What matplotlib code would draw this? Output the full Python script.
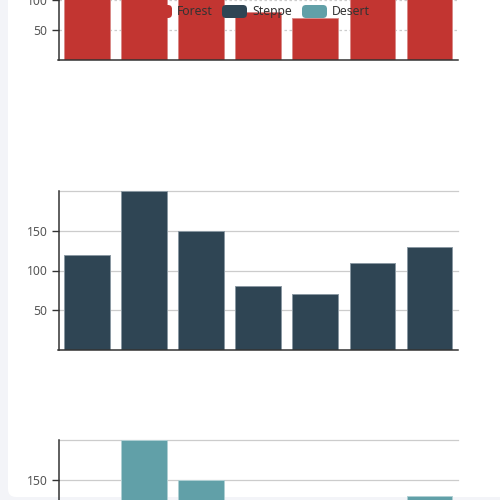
import numpy as np
import matplotlib
matplotlib.use("Agg")
import matplotlib.pyplot as plt
from matplotlib.patches import FancyBboxPatch

plt.rcParams['font.family'] = ['Noto Sans', 'DejaVu Sans']

# data
days = ['Mon', 'Tue', 'Wed', 'Thu', 'Fri', 'Sat', 'Sun']
series_names = ['Forest', 'Steppe', 'Desert']
forest = [120, 200, 150, 80, 70, 110, 130]
steppe = [120, 200, 150, 80, 70, 110, 130]
desert = [120, 200, 150, 80, 70, 110, 130]
colors = ['#c23531', '#2f4554', '#61a0a8']
edge_colors = ['#d98a88', '#8a98a2', '#b0d0d4']
ticks = [50, 100, 150]

W, H = 500, 500
fig = plt.figure(figsize=(5, 5), dpi=100, facecolor='#f3f4f8')

# background axes in pixel coords, holds the white card
bg = fig.add_axes([0, 0, 1, 1], zorder=-5)
bg.set_xlim(0, W)
bg.set_ylim(H, 0)
bg.axis('off')
bg.add_patch(FancyBboxPatch((8, -30), 520, 527, boxstyle='round,pad=0,rounding_size=8',
                            facecolor='white', edgecolor='none'))


def px_axes(left, top, right, bottom):
    return fig.add_axes([left / W, 1 - bottom / H, (right - left) / W, (bottom - top) / H])


def draw(ax, vals, color, edge, dashed):
    x = np.arange(len(days))
    ax.set_facecolor('none')
    ax.bar(x, vals, width=0.8, color=color, edgecolor=edge, linewidth=0.7, zorder=3)
    ax.set_xlim(-0.5, len(days) - 0.5)
    ax.set_ylim(0, 200)
    ax.set_yticks(ticks)
    ax.set_yticklabels([str(t) for t in ticks])
    ax.set_xticks([])
    ls = (0, (2, 2)) if dashed else '-'
    for t in ticks + [200]:
        ax.axhline(t, color='#cccccc', lw=0.9, ls=ls, zorder=1, clip_on=False)
    for s in ['top', 'right']:
        ax.spines[s].set_visible(False)
    for s in ['left', 'bottom']:
        ax.spines[s].set_color('#333333')
        ax.spines[s].set_linewidth(1.1)
        ax.spines[s].set_zorder(4)
    ax.tick_params(axis='y', length=5, width=1, color='#333333', labelcolor='#555555',
                   labelsize=8.8, pad=3)


ax1 = px_axes(58.5, -60, 458, 60)
draw(ax1, forest, colors[0], edge_colors[0], True)
ax2 = px_axes(58.5, 191, 458, 350)
draw(ax2, steppe, colors[1], edge_colors[1], False)
ax3 = px_axes(58.5, 440, 458, 599)
draw(ax3, desert, colors[2], edge_colors[2], False)

# legend overlay
top = fig.add_axes([0, 0, 1, 1], zorder=10)
top.set_xlim(0, W)
top.set_ylim(H, 0)
top.axis('off')
top.patch.set_alpha(0)
legend_x = [147, 222, 302]
for name, c, lx in zip(series_names, colors, legend_x):
    top.add_patch(FancyBboxPatch((lx, 5), 25, 13, boxstyle='round,pad=0,rounding_size=4',
                                 facecolor=c, edgecolor='none'))
    top.text(lx + 30, 11.5, name, fontsize=8.8, color='#333333', va='center', ha='left')

fig.savefig('out.png', dpi=100, facecolor=fig.get_facecolor())
